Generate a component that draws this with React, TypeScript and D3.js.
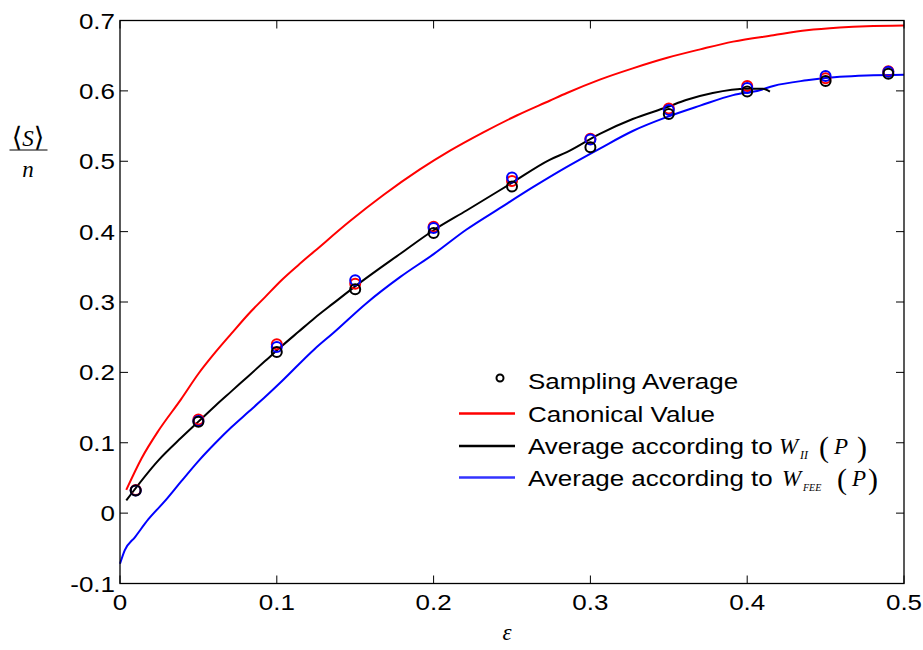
import React from "react";
import * as d3 from "d3";

const xTicks = [0, 0.1, 0.2, 0.3, 0.4, 0.5];
const yTicks = [-0.1, 0, 0.1, 0.2, 0.3, 0.4, 0.5, 0.6, 0.7];

const canonX = [0.004, 0.0138, 0.0245, 0.039, 0.05, 0.061, 0.071, 0.082, 0.0925, 0.103, 0.114, 0.124, 0.1467, 0.168, 0.191, 0.2105, 0.2317, 0.253, 0.274, 0.285, 0.306, 0.327, 0.349, 0.37, 0.391, 0.4167, 0.438, 0.459, 0.476, 0.5];
const canonY = [0.033, 0.078, 0.117, 0.162, 0.198, 0.229, 0.255, 0.283, 0.307, 0.331, 0.353, 0.372, 0.415, 0.452, 0.488, 0.515, 0.541, 0.565, 0.586, 0.597, 0.616, 0.632, 0.647, 0.659, 0.67, 0.679, 0.686, 0.69, 0.692, 0.693];

const wiiX = [0.004, 0.0245, 0.039, 0.05, 0.061, 0.071, 0.082, 0.0925, 0.103, 0.114, 0.124, 0.136, 0.151, 0.179, 0.2, 0.221, 0.249, 0.274, 0.285, 0.306, 0.327, 0.349, 0.361, 0.378, 0.4, 0.41, 0.4145];
const wiiY = [0.018, 0.075, 0.107, 0.13, 0.153, 0.173, 0.195, 0.216, 0.237, 0.258, 0.277, 0.298, 0.324, 0.369, 0.402, 0.43, 0.468, 0.502, 0.513, 0.539, 0.56, 0.577, 0.587, 0.597, 0.603, 0.603, 0.599];

const wfeeX = [0, 0.003, 0.0096, 0.018, 0.029, 0.039, 0.05, 0.061, 0.071, 0.082, 0.093, 0.103, 0.124, 0.136, 0.157, 0.179, 0.2, 0.221, 0.242, 0.2636, 0.285, 0.306, 0.327, 0.349, 0.37, 0.391, 0.408, 0.4167, 0.438, 0.459, 0.476, 0.5];
const wfeeY = [-0.072, -0.053, -0.034, -0.009, 0.018, 0.045, 0.074, 0.1, 0.122, 0.144, 0.166, 0.187, 0.233, 0.256, 0.298, 0.336, 0.368, 0.403, 0.433, 0.4635, 0.492, 0.518, 0.543, 0.563, 0.579, 0.594, 0.601, 0.607, 0.615, 0.62, 0.622, 0.623];

const sampleX = [0.01, 0.05, 0.1, 0.15, 0.2, 0.25, 0.3, 0.35, 0.4, 0.45, 0.49];
const sampleRed = [0.033, 0.133, 0.24, 0.326, 0.407, 0.472, 0.532, 0.575, 0.607, 0.618, 0.628];
const sampleBlue = [0.032, 0.131, 0.236, 0.331, 0.405, 0.477, 0.531, 0.573, 0.604, 0.621, 0.627];
const sampleBlack = [0.032, 0.13, 0.229, 0.318, 0.398, 0.464, 0.52, 0.567, 0.599, 0.614, 0.6245];

const W = 923, H = 650;
const L = 120, R = 904, T = 20.5, B = 583.5;
const SX = 1.18;
const sans = "'Liberation Sans', Arial, Helvetica, sans-serif";
const serif = "'Liberation Serif', 'Times New Roman', serif";

function SText({ x, y, anchor = "start", size = 22, children, family = sans }: any) {
  return (
    <text transform={`translate(${x},${y}) scale(${SX},1)`} textAnchor={anchor} fontSize={size} fontFamily={family} fill="#000">
      {children}
    </text>
  );
}

export default function App() {
  const x = d3.scaleLinear().domain([0, 0.5]).range([L, R]);
  const y = d3.scaleLinear().domain([-0.1, 0.7]).range([B, T]);
  const line = d3.line<[number, number]>().x(d => x(d[0])).y(d => y(d[1])).curve(d3.curveMonotoneX);
  const zip = (a: number[], b: number[]) => a.map((v, i) => [v, b[i]] as [number, number]);

  const legendRows = [381, 413.5, 446, 477.5];
  const lx0 = 459, lx1 = 515, tx = 528;

  return (
    <svg width={W} height={H} style={{ position: "absolute", left: 0, top: 0, display: "block", background: "#fff" }}>
      <rect x={0} y={0} width={W} height={H} fill="#fff" />
      <path d={line(zip(canonX, canonY)) || ""} fill="none" stroke="#ff0000" strokeWidth={2} />
      <path d={line(zip(wfeeX, wfeeY)) || ""} fill="none" stroke="#0000ff" strokeWidth={2} />
      <path d={line(zip(wiiX, wiiY)) || ""} fill="none" stroke="#000" strokeWidth={2} />
      {sampleX.map((v, i) => (
        <circle key={"r" + i} cx={x(v)} cy={y(sampleRed[i])} r={5} fill="none" stroke="#ff0000" strokeWidth={2} />
      ))}
      {sampleX.map((v, i) => (
        <circle key={"b" + i} cx={x(v)} cy={y(sampleBlue[i])} r={5} fill="none" stroke="#0000ff" strokeWidth={2} />
      ))}
      {sampleX.map((v, i) => (
        <circle key={"k" + i} cx={x(v)} cy={y(sampleBlack[i])} r={5} fill="none" stroke="#000" strokeWidth={2} />
      ))}
      <rect x={L} y={T} width={R - L} height={B - T} fill="none" stroke="#000" strokeWidth={1.3} />
      {xTicks.map((t, i) => (
        <g key={"xt" + i}>
          <line x1={x(t)} x2={x(t)} y1={B} y2={B - 8} stroke="#000" strokeWidth={1} />
          <line x1={x(t)} x2={x(t)} y1={T} y2={T + 8} stroke="#000" strokeWidth={1} />
          <SText x={x(t)} y={610} anchor="middle">{String(t)}</SText>
        </g>
      ))}
      {yTicks.map((t, i) => (
        <g key={"yt" + i}>
          <line x1={L} x2={L + 8} y1={y(t)} y2={y(t)} stroke="#000" strokeWidth={1} />
          <line x1={R} x2={R - 8} y1={y(t)} y2={y(t)} stroke="#000" strokeWidth={1} />
          <SText x={115} y={y(t) + 8} anchor="end">{String(t)}</SText>
        </g>
      ))}
      <text x={28} y={146} textAnchor="middle" fontSize={23} fontFamily={serif}>
        <tspan fontFamily="'DejaVu Serif', serif" fontSize={27}>⟨</tspan>
        <tspan fontStyle="italic">S</tspan>
        <tspan fontFamily="'DejaVu Serif', serif" fontSize={27}>⟩</tspan>
      </text>
      <line x1={9.5} x2={47.5} y1={150} y2={150} stroke="#000" strokeWidth={1} />
      <text x={28} y={177} textAnchor="middle" fontSize={23} fontStyle="italic" fontFamily={serif}>n</text>
      <text x={507} y={640} textAnchor="middle" fontSize={23} fontStyle="italic" fontFamily={serif}>ε</text>
      <circle cx={500} cy={legendRows[0] - 3} r={3.5} fill="none" stroke="#000" strokeWidth={2} />
      <line x1={lx0} x2={lx1} y1={legendRows[1]} y2={legendRows[1]} stroke="#ff0000" strokeWidth={2.5} />
      <line x1={lx0} x2={lx1} y1={legendRows[2]} y2={legendRows[2]} stroke="#000" strokeWidth={2.5} />
      <line x1={lx0} x2={lx1} y1={legendRows[3]} y2={legendRows[3]} stroke="#3333ff" strokeWidth={2.5} />
      <SText x={tx} y={legendRows[0] + 8}>Sampling Average</SText>
      <SText x={tx} y={legendRows[1] + 8}>Canonical Value</SText>
      <SText x={tx} y={legendRows[2] + 8}>Average according to</SText>
      <SText x={tx} y={legendRows[3] + 8}>Average according to</SText>
      <text x={779} y={legendRows[2] + 8} fontSize={23} fontStyle="italic" fontFamily={serif}>W</text>
      <text x={800} y={legendRows[2] + 13} fontSize={12} fontStyle="italic" fontFamily={serif}>II</text>
      <text x={819} y={legendRows[2] + 11} fontSize={30} fontFamily={serif}>(</text>
      <text x={834} y={legendRows[2] + 8} fontSize={23} fontStyle="italic" fontFamily={serif}>P</text>
      <text x={857} y={legendRows[2] + 11} fontSize={30} fontFamily={serif}>)</text>
      <text x={782} y={legendRows[3] + 8} fontSize={23} fontStyle="italic" fontFamily={serif}>W</text>
      <text x={803} y={legendRows[3] + 13} fontSize={10} fontStyle="italic" fontFamily={serif}>FEE</text>
      <text x={837} y={legendRows[3] + 11} fontSize={30} fontFamily={serif}>(</text>
      <text x={852} y={legendRows[3] + 8} fontSize={23} fontStyle="italic" fontFamily={serif}>P</text>
      <text x={868} y={legendRows[3] + 11} fontSize={30} fontFamily={serif}>)</text>
    </svg>
  );
}
